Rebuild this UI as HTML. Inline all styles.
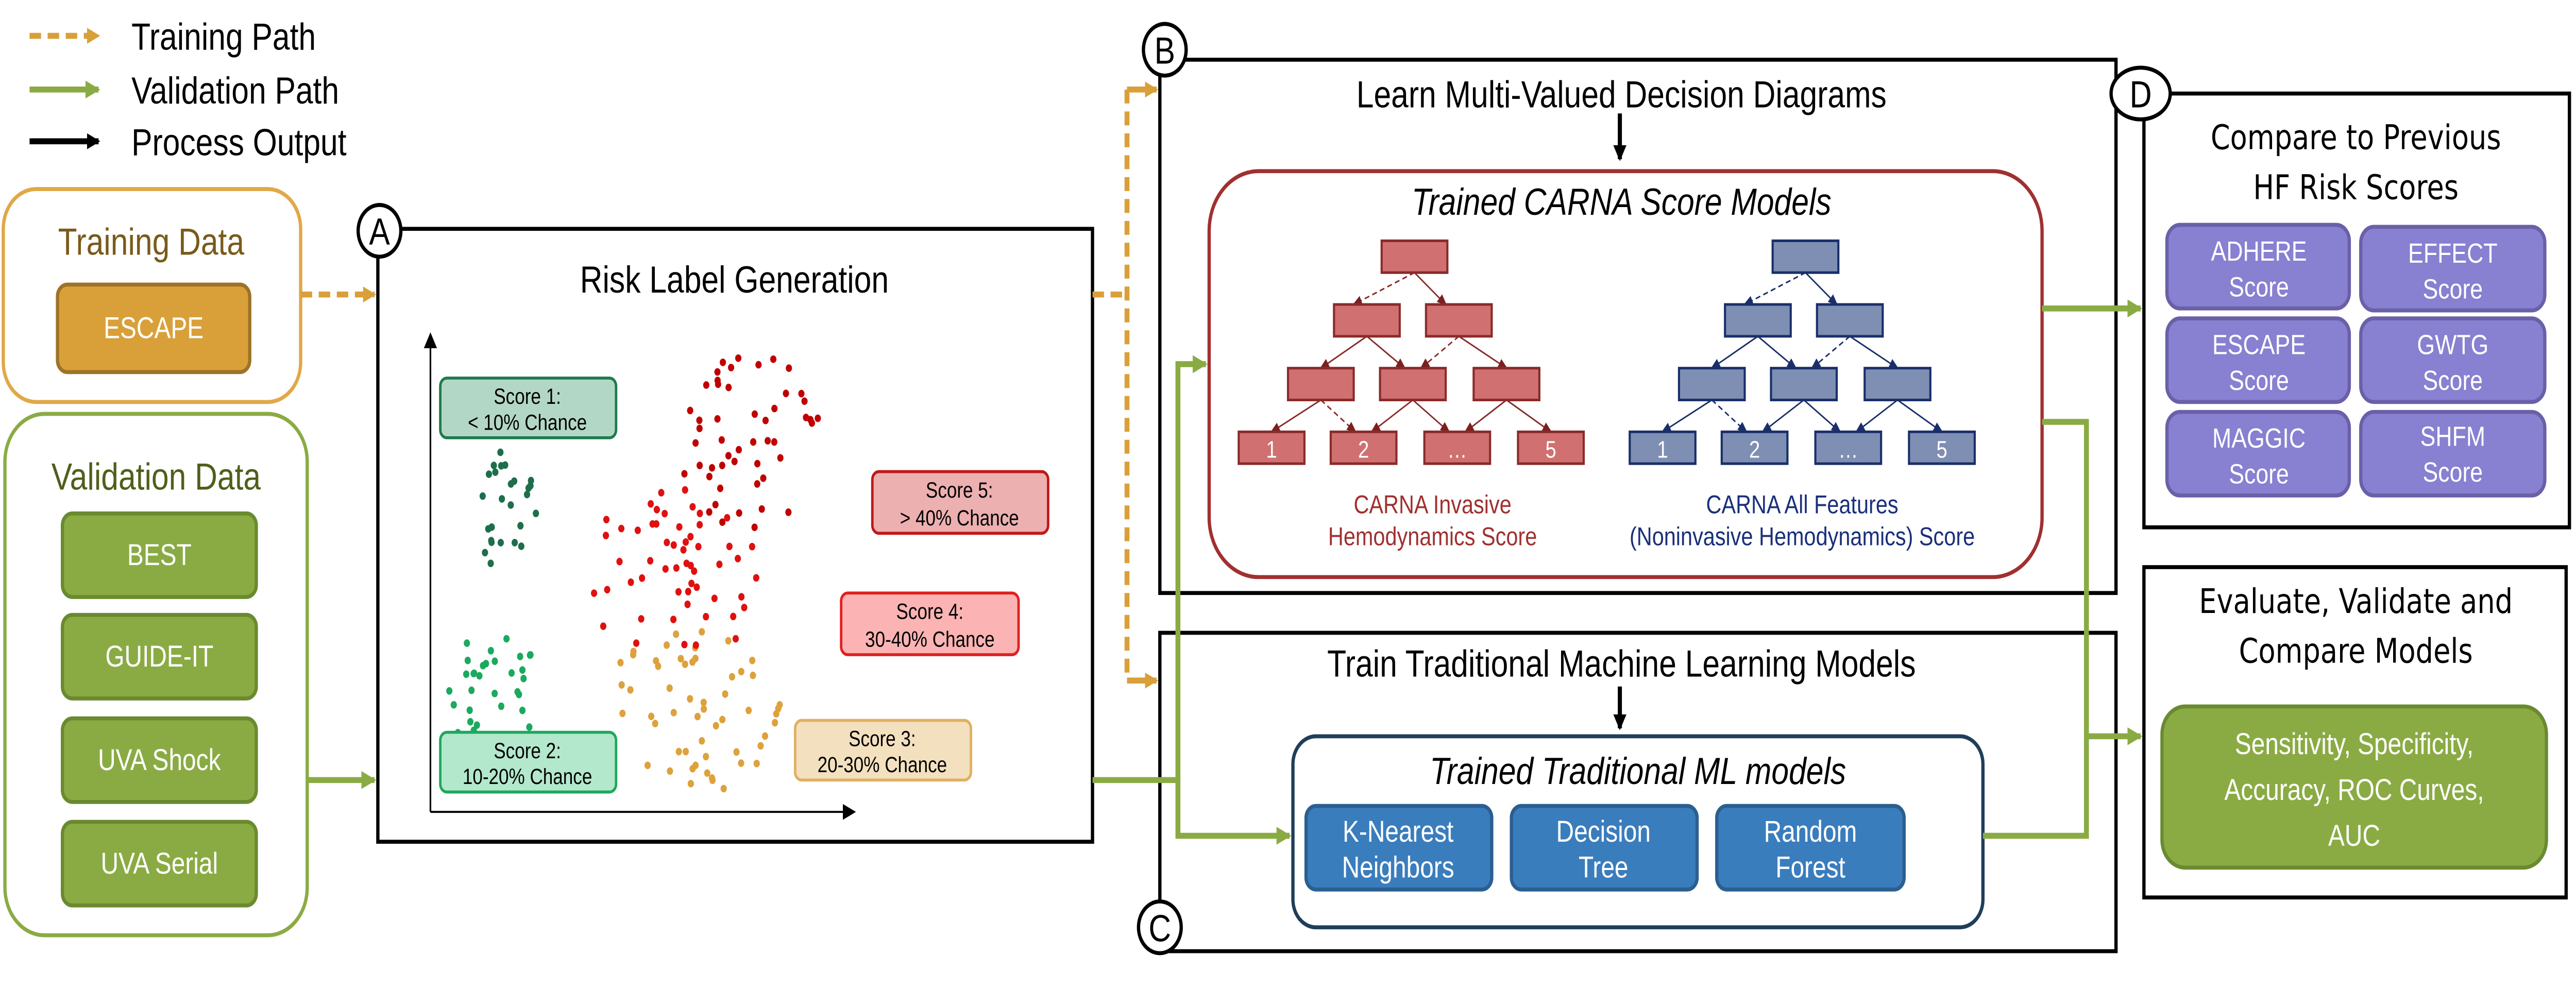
<!DOCTYPE html>
<html><head><meta charset="utf-8"><style>
html,body{margin:0;padding:0;background:#fff;width:100%;height:100%;overflow:hidden;}
svg{display:block;position:absolute;left:0;top:0;width:100vw;height:100vh;}
text{font-family:"Liberation Sans",Arial,sans-serif;}
.dv{font-family:"DejaVu Sans","Liberation Sans",sans-serif;}
</style></head><body>
<svg id="s" viewBox="0 0 1568 497" preserveAspectRatio="none" xmlns="http://www.w3.org/2000/svg">
<defs>
<marker id="ao" markerWidth="8" markerHeight="8" refX="7" refY="4" orient="auto" markerUnits="userSpaceOnUse"><path d="M0,0 L8,4 L0,8z" fill="#d9a03a"/></marker>
<marker id="ag" markerWidth="9" markerHeight="9" refX="8" refY="4.5" orient="auto" markerUnits="userSpaceOnUse"><path d="M0,0 L9,4.5 L0,9z" fill="#8aab44"/></marker>
<marker id="ak" markerWidth="8" markerHeight="8" refX="7" refY="4" orient="auto" markerUnits="userSpaceOnUse"><path d="M0,0 L8,4 L0,8z" fill="#000"/></marker>
<marker id="ar" markerWidth="6" markerHeight="5" refX="5" refY="2.5" orient="auto" markerUnits="userSpaceOnUse"><path d="M0,0 L6,2.5 L0,5z" fill="#7a2020"/></marker>
<marker id="ab" markerWidth="6" markerHeight="5" refX="5" refY="2.5" orient="auto" markerUnits="userSpaceOnUse"><path d="M0,0 L6,2.5 L0,5z" fill="#1a2f6a"/></marker>
</defs>

<line x1="18" y1="18" x2="60" y2="18" stroke="#d9a03a" stroke-width="3" stroke-dasharray="7,4" marker-end="url(#ao)"/>
<line x1="18" y1="45" x2="60" y2="45" stroke="#8aab44" stroke-width="3" marker-end="url(#ag)"/>
<line x1="18" y1="71" x2="60" y2="71" stroke="#000" stroke-width="3" marker-end="url(#ak)"/>
<text x="80" y="25" font-size="19">Training Path</text>
<text x="80" y="52" font-size="19">Validation Path</text>
<text x="80" y="78" font-size="19">Process Output</text>

<rect x="2" y="95" width="181" height="107" rx="20" fill="#fff" stroke="#e0a847" stroke-width="2"/>
<text x="92" y="128" font-size="19" text-anchor="middle" fill="#7a5a1a">Training Data</text>
<rect x="35" y="143" width="117" height="44" rx="6" fill="#d9a03a" stroke="#9e7328" stroke-width="2"/>
<text x="93.5" y="170" font-size="15" text-anchor="middle" fill="#fff">ESCAPE</text>

<rect x="3" y="208" width="184" height="262" rx="24" fill="#fff" stroke="#8aab44" stroke-width="2"/>
<text x="95" y="246" font-size="19" text-anchor="middle" fill="#4f5f1a">Validation Data</text>
<g fill="#8aab44" stroke="#6a8a30" stroke-width="2">
<rect x="38" y="258" width="118" height="42" rx="6"/>
<rect x="38" y="309" width="118" height="42" rx="6"/>
<rect x="38" y="361" width="118" height="42" rx="6"/>
<rect x="38" y="413" width="118" height="42" rx="6"/>
</g>
<g font-size="15" fill="#fff" text-anchor="middle">
<text x="97" y="284">BEST</text>
<text x="97" y="335">GUIDE-IT</text>
<text x="97" y="387">UVA Shock</text>
<text x="97" y="439">UVA Serial</text>
</g>

<line x1="183" y1="148" x2="228" y2="148" stroke="#d9a03a" stroke-width="3" stroke-dasharray="7,4" marker-end="url(#ao)"/>
<line x1="187" y1="392" x2="228" y2="392" stroke="#8aab44" stroke-width="3" marker-end="url(#ag)"/>

<rect x="230" y="115" width="435" height="308" fill="#fff" stroke="#000" stroke-width="2"/>
<circle cx="231" cy="116" r="13" fill="#fff" stroke="#000" stroke-width="2"/>
<text x="231" y="123" font-size="19" text-anchor="middle">A</text>
<text x="447" y="147" font-size="19" text-anchor="middle">Risk Label Generation</text>
<line x1="262" y1="408" x2="262" y2="168" stroke="#000" stroke-width="1" marker-end="url(#ak)"/>
<line x1="262" y1="408" x2="520" y2="408" stroke="#000" stroke-width="1" marker-end="url(#ak)"/>
<g id="dots"></g>
<rect x="268" y="190" width="107" height="30" rx="4" fill="#b3d7c6" stroke="#1e7a4e" stroke-width="1.5"/>
<rect x="268" y="368" width="107" height="30" rx="4" fill="#b3e8cc" stroke="#1ea85e" stroke-width="1.5"/>
<rect x="484" y="362" width="107" height="30" rx="4" fill="#f3e0bf" stroke="#e0b060" stroke-width="1.5"/>
<rect x="512" y="298" width="108" height="31" rx="4" fill="#fbb3b3" stroke="#e02020" stroke-width="1.5"/>
<rect x="531" y="237" width="107" height="31" rx="4" fill="#ecb0b0" stroke="#c01818" stroke-width="1.5"/>
<g font-size="11" text-anchor="middle">
<text x="321" y="203">Score 1:</text><text x="321" y="216">&lt; 10% Chance</text>
<text x="321" y="381">Score 2:</text><text x="321" y="394">10-20% Chance</text>
<text x="537" y="375">Score 3:</text><text x="537" y="388">20-30% Chance</text>
<text x="566" y="311">Score 4:</text><text x="566" y="325">30-40% Chance</text>
<text x="584" y="250">Score 5:</text><text x="584" y="264">&gt; 40% Chance</text>
</g>

<polyline points="665,148 686,148" fill="none" stroke="#d9a03a" stroke-width="3" stroke-dasharray="7,4"/>
<line x1="686" y1="45" x2="686" y2="342" stroke="#d9a03a" stroke-width="3" stroke-dasharray="7,4"/>
<line x1="686" y1="45" x2="704" y2="45" stroke="#d9a03a" stroke-width="3" marker-end="url(#ao)"/>
<line x1="686" y1="342" x2="704" y2="342" stroke="#d9a03a" stroke-width="3" marker-end="url(#ao)"/>

<rect x="706" y="30" width="582" height="268" fill="#fff" stroke="#000" stroke-width="2"/>
<circle cx="709" cy="25" r="13" fill="#fff" stroke="#000" stroke-width="2"/>
<text x="709" y="32" font-size="19" text-anchor="middle">B</text>
<text x="987" y="54" font-size="19" text-anchor="middle">Learn Multi-Valued Decision Diagrams</text>
<line x1="986" y1="57" x2="986" y2="80" stroke="#000" stroke-width="2.5" marker-end="url(#ak)"/>
<rect x="736" y="86" width="507" height="204" rx="30" fill="#fff" stroke="#a03030" stroke-width="2"/>
<text x="987" y="108" font-size="19" font-style="italic" text-anchor="middle">Trained CARNA Score Models</text>

<rect x="706" y="318" width="582" height="160" fill="#fff" stroke="#000" stroke-width="2"/>
<text x="987" y="340" font-size="19" text-anchor="middle">Train Traditional Machine Learning Models</text>
<line x1="986" y1="345" x2="986" y2="366" stroke="#000" stroke-width="2.5" marker-end="url(#ak)"/>
<rect x="787" y="370" width="420" height="96" rx="14" fill="#fff" stroke="#1f3e5a" stroke-width="2"/>
<text x="997" y="394" font-size="19" font-style="italic" text-anchor="middle">Trained Traditional ML models</text>
<g fill="#3a7dbd" stroke="#2a5f90" stroke-width="2">
<rect x="795" y="405" width="113" height="42" rx="6"/>
<rect x="920" y="405" width="113" height="42" rx="6"/>
<rect x="1045" y="405" width="114" height="42" rx="6"/>
</g>
<g font-size="15" fill="#fff" text-anchor="middle">
<text x="851" y="423">K-Nearest</text><text x="851" y="441">Neighbors</text>
<text x="976" y="423">Decision</text><text x="976" y="441">Tree</text>
<text x="1102" y="423">Random</text><text x="1102" y="441">Forest</text>
</g>
<circle cx="706" cy="466" r="13" fill="#fff" stroke="#000" stroke-width="2"/>
<text x="706" y="473" font-size="19" text-anchor="middle">C</text>

<g id="trees"></g>
<g font-size="13" text-anchor="middle">
<text x="872" y="258" fill="#a03030">CARNA Invasive</text>
<text x="872" y="274" fill="#a03030">Hemodynamics Score</text>
<text x="1097" y="258" fill="#1a2f7a">CARNA All Features</text>
<text x="1097" y="274" fill="#1a2f7a">(Noninvasive Hemodynamics) Score</text>
</g>

<polyline points="665,392 717,392 717,183 734,183" fill="none" stroke="#8aab44" stroke-width="3" marker-end="url(#ag)"/>
<polyline points="717,392 717,420 785,420" fill="none" stroke="#8aab44" stroke-width="3" marker-end="url(#ag)"/>
<line x1="1243" y1="155" x2="1303" y2="155" stroke="#8aab44" stroke-width="3" marker-end="url(#ag)"/>
<polyline points="1243,212 1270,212 1270,420 1207,420" fill="none" stroke="#8aab44" stroke-width="3"/>
<line x1="1270" y1="370" x2="1303" y2="370" stroke="#8aab44" stroke-width="3" marker-end="url(#ag)"/>

<rect x="1305" y="47" width="259" height="218" fill="#fff" stroke="#000" stroke-width="2"/>
<ellipse cx="1303" cy="47" rx="18" ry="13" fill="#fff" stroke="#000" stroke-width="2"/>
<text class="dv" x="1303" y="54" font-size="18" text-anchor="middle">D</text>
<text class="dv" x="1434" y="75" font-size="17" text-anchor="middle">Compare to Previous</text>
<text class="dv" x="1434" y="100" font-size="17" text-anchor="middle">HF Risk Scores</text>
<g fill="#8880d0" stroke="#6a60a8" stroke-width="2">
<rect x="1319" y="113" width="111" height="42" rx="8"/><rect x="1437" y="114" width="112" height="42" rx="8"/>
<rect x="1319" y="160" width="111" height="42" rx="8"/><rect x="1437" y="160" width="112" height="42" rx="8"/>
<rect x="1319" y="207" width="111" height="42" rx="8"/><rect x="1437" y="207" width="112" height="42" rx="8"/>
</g>
<g class="dv" font-size="14" fill="#fff" text-anchor="middle">
<text x="1375" y="131">ADHERE</text><text x="1375" y="149">Score</text>
<text x="1493" y="132">EFFECT</text><text x="1493" y="150">Score</text>
<text x="1375" y="178">ESCAPE</text><text x="1375" y="196">Score</text>
<text x="1493" y="178">GWTG</text><text x="1493" y="196">Score</text>
<text x="1375" y="225">MAGGIC</text><text x="1375" y="243">Score</text>
<text x="1493" y="224">SHFM</text><text x="1493" y="242">Score</text>
</g>

<rect x="1305" y="285" width="257" height="166" fill="#fff" stroke="#000" stroke-width="2"/>
<text class="dv" x="1434" y="308" font-size="17" text-anchor="middle">Evaluate, Validate and</text>
<text class="dv" x="1434" y="333" font-size="17" text-anchor="middle">Compare Models</text>
<rect x="1316" y="355" width="234" height="81" rx="14" fill="#8aab44" stroke="#6a8a30" stroke-width="2"/>
<g class="dv" font-size="15" fill="#fff" text-anchor="middle">
<text x="1433" y="379">Sensitivity, Specificity,</text>
<text x="1433" y="402">Accuracy, ROC Curves,</text>
<text x="1433" y="425">AUC</text>
</g>
</svg>
<script>
(function(){
var NS="http://www.w3.org/2000/svg";
var seed=7;function r(){seed=(seed*16807)%2147483647;return (seed-1)/2147483646;}
var dots=document.getElementById("dots");
function cl(n,cx,cy,rx,ry,col){for(var i=0;i<n;i++){var a=r()*6.283,d=Math.sqrt(r());var c=document.createElementNS(NS,"circle");c.setAttribute("cx",(cx+Math.cos(a)*d*rx).toFixed(1));c.setAttribute("cy",(cy+Math.sin(a)*d*ry).toFixed(1));c.setAttribute("r","1.9");c.setAttribute("fill",col);dots.appendChild(c);}}
cl(26,307,258,20,33,"#1e6e4a");
cl(32,300,348,32,30,"#1aaa5e");
cl(55,420,358,55,42,"#dda23c");
cl(50,455,222,45,45,"#c00000");
cl(55,410,290,55,45,"#e01010");
var t=document.getElementById("trees");
function rect(x,y,w,h,f,s,label){var e=document.createElementNS(NS,"rect");e.setAttribute("x",x);e.setAttribute("y",y);e.setAttribute("width",w);e.setAttribute("height",h);e.setAttribute("fill",f);e.setAttribute("stroke",s);e.setAttribute("stroke-width","1.3");t.appendChild(e);if(label){var tx=document.createElementNS(NS,"text");tx.setAttribute("x",x+w/2);tx.setAttribute("y",y+h-3);tx.setAttribute("font-size","12");tx.setAttribute("fill","#fff");tx.setAttribute("text-anchor","middle");tx.textContent=label;t.appendChild(tx);}}
function ln(x1,y1,x2,y2,s,dash,m){var e=document.createElementNS(NS,"line");e.setAttribute("x1",x1);e.setAttribute("y1",y1);e.setAttribute("x2",x2);e.setAttribute("y2",y2);e.setAttribute("stroke",s);e.setAttribute("stroke-width","0.8");if(dash)e.setAttribute("stroke-dasharray","3,2");e.setAttribute("marker-end","url(#"+m+")");t.appendChild(e);}
function tree(dx,f,s,m){
var L1=[[841,121]],L2=[[812,153],[868,153]],L3=[[784,185],[840,185],[897,185]],L4=[[754,217,"1"],[810,217,"2"],[867,217,"…"],[924,217,"5"]];
var W=40,H=16;
function e(a,b,off,dash){ln(a[0]+dx+W/2,a[1]+H,b[0]+dx+W/2+off,b[1],s,dash,m);}
e(L1[0],L2[0],-8,true);e(L1[0],L2[1],-8,false);
e(L2[0],L3[0],0,false);e(L2[0],L3[1],-5,false);e(L2[1],L3[1],5,true);e(L2[1],L3[2],0,false);
e(L3[0],L4[0],0,false);e(L3[0],L4[1],-5,true);e(L3[1],L4[1],5,false);e(L3[1],L4[2],-5,false);e(L3[2],L4[2],5,false);e(L3[2],L4[3],0,false);
[L1,L2,L3].forEach(function(L){L.forEach(function(p){rect(p[0]+dx,p[1],W,H,f,s);});});
L4.forEach(function(p){rect(p[0]+dx,p[1],W,H,f,s,p[2]);});
}
tree(0,"#d07070","#8a2a2a","ar");
tree(238,"#7f8fb3","#1a2f6a","ab");
})();
</script>
</body></html>
